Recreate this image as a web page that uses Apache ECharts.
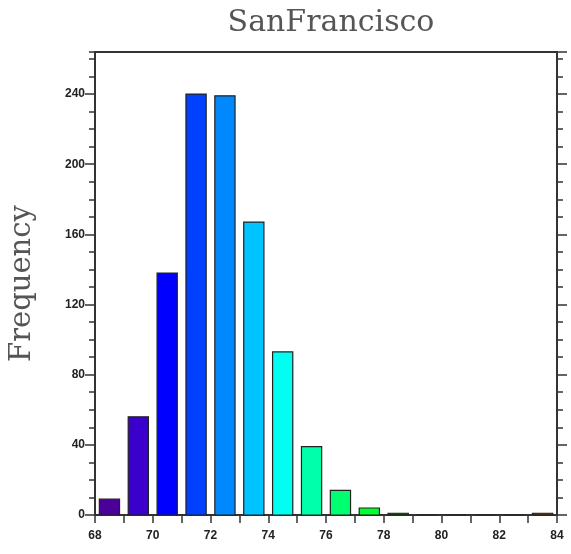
<!DOCTYPE html>
<html>
<head>
<meta charset="utf-8">
<script src="https://cdn.jsdelivr.net/npm/echarts@6/dist/echarts.min.js"></script>
<style>
  html, body { margin: 0; padding: 0; background: #fff; }
  #chart { width: 571px; height: 554px; }
</style>
</head>
<body>
<div id="chart"></div>
<script>
// Histogram of temperatures: bin centres, counts and fill colours
const binCenters = [68.5, 69.5, 70.5, 71.5, 72.5, 73.5, 74.5, 75.5, 76.5, 77.5, 78.5, 79.5, 80.5, 81.5, 82.5, 83.5];
const counts     = [9, 56, 138, 240, 239, 167, 93, 39, 14, 4, 1, 0, 0, 0, 0, 1];
const binColors  = ['#4a0099', '#3a00cc', '#0000ff', '#0040ff', '#0088ff', '#00c4ff', '#00fff0', '#00ffaa',
                    '#00ff70', '#00ff30', '#0a4a00', '#303030', '#303030', '#303030', '#303030', '#5a3000'];
const binWidth = 0.7;
const xMin = 68, xMax = 84;
const yMax = 264;

const chart = echarts.init(document.getElementById('chart'), null, { renderer: 'canvas' });

const axisColor = '#333';
const labelStyle = { color: '#222', fontFamily: 'Liberation Sans, Arial, sans-serif', fontWeight: 'bold', fontSize: 12 };

// Left/right y axes: majors every 40 (labelled on the left), minors every 10
function yAxis(position, interval, tickLen, withLabels, withLine) {
  return {
    type: 'value', gridIndex: 0, position: position,
    min: 0, max: yMax, interval: interval,
    axisLine: { show: withLine, lineStyle: { color: axisColor, width: 2 } },
    axisTick: { show: true, inside: false, length: tickLen, lineStyle: { color: axisColor, width: 1.5 } },
    axisLabel: Object.assign({ show: withLabels, margin: 10, showMaxLabel: false }, labelStyle),
    splitLine: { show: false }
  };
}

const yAxes = [
  Object.assign(yAxis('left', 40, 10, true, true), {
    name: 'Frequency', nameLocation: 'middle', nameRotate: 90, nameGap: 58,
    nameTextStyle: { fontFamily: 'DejaVu Serif, serif', fontSize: 29, color: '#555' }
  }),
  yAxis('left', 10, 6, false, false),
  yAxis('right', 40, 10, false, true),
  yAxis('right', 10, 6, false, false)
];

const option = {
  backgroundColor: '#fff',
  animation: false,
  title: {
    text: 'SanFrancisco',
    left: 326, top: 3, textAlign: 'center',
    textStyle: { fontFamily: 'DejaVu Serif, serif', fontSize: 30, fontWeight: 'normal', color: '#555' }
  },
  grid: {
    left: 95, right: 14, top: 52, bottom: 39,
    show: true, borderColor: axisColor, borderWidth: 2, backgroundColor: 'transparent'
  },
  xAxis: [{
    type: 'value', min: xMin, max: xMax, interval: 1, position: 'bottom',
    axisLine: { show: true, onZero: false, lineStyle: { color: axisColor, width: 2 } },
    axisTick: { show: true, inside: false, length: 8, lineStyle: { color: axisColor, width: 1.5 } },
    axisLabel: Object.assign({
      margin: 15,
      formatter: v => (Math.round(v) % 2 === 0 ? String(Math.round(v)) : '')
    }, labelStyle),
    splitLine: { show: false }
  }],
  yAxis: yAxes,
  series: [{
    type: 'custom',
    xAxisIndex: 0, yAxisIndex: 0,
    data: binCenters.map((x, i) => [x, counts[i], i]),
    encode: { x: 0, y: 1 },
    renderItem: function (params, api) {
      const x = api.value(0), y = api.value(1), idx = api.value(2);
      const p0 = api.coord([x - binWidth / 2, y]);
      const p1 = api.coord([x + binWidth / 2, 0]);
      return {
        type: 'rect',
        shape: { x: p0[0], y: p0[1], width: p1[0] - p0[0], height: p1[1] - p0[1] },
        style: { fill: binColors[idx], stroke: '#222', lineWidth: 1.2 }
      };
    },
    z: 1
  }]
};

chart.setOption(option);
</script>
</body>
</html>
